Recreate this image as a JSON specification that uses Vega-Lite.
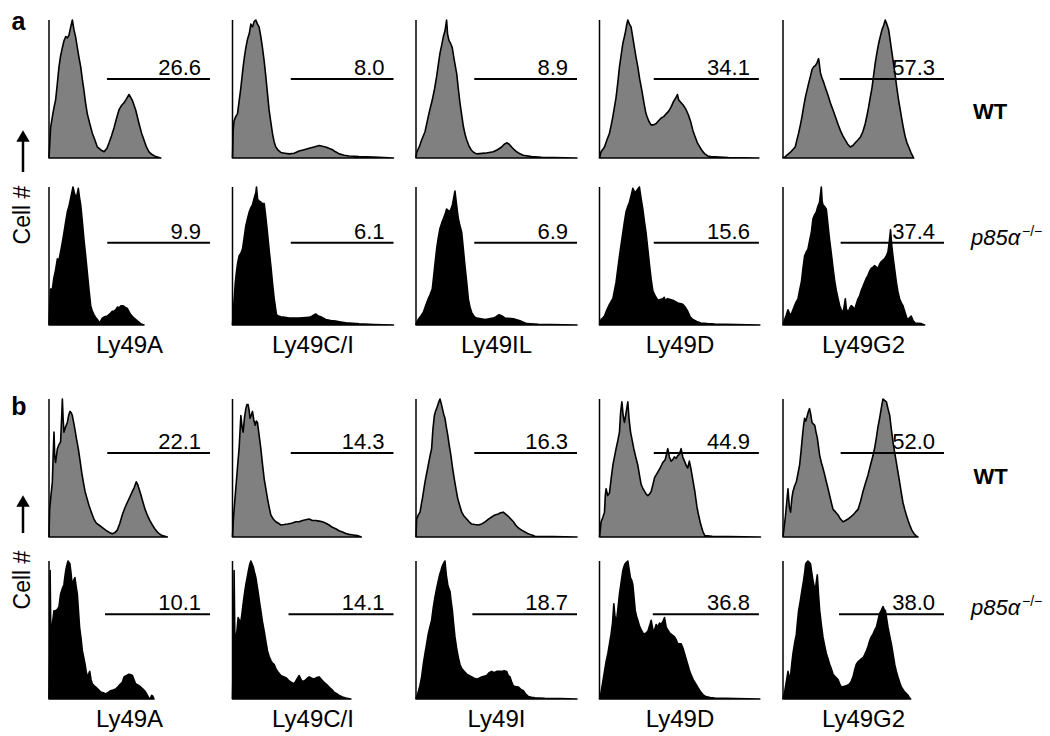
{
"$schema":"https://vega.github.io/schema/vega-lite/v6.json",
"padding":{"left":5,"top":10,"right":0,"bottom":0},
"background":"white",
"config":{"font":"Liberation Sans","view":{"stroke":null}},
"datasets":{
"a":[
{"r":"W","c":1,"x":0,"y":0},{"r":"W","c":1,"x":1,"y":22},{"r":"W","c":1,"x":2.1,"y":30},{"r":"W","c":1,"x":3,"y":36},{"r":"W","c":1,"x":4.1,"y":42},{"r":"W","c":1,"x":5,"y":52},{"r":"W","c":1,"x":6.2,"y":66},{"r":"W","c":1,"x":7.2,"y":74},{"r":"W","c":1,"x":8.3,"y":80},{"r":"W","c":1,"x":9.3,"y":85},{"r":"W","c":1,"x":10.4,"y":88},{"r":"W","c":1,"x":11.4,"y":87},{"r":"W","c":1,"x":12.4,"y":89},{"r":"W","c":1,"x":13.5,"y":95},{"r":"W","c":1,"x":14.5,"y":100},{"r":"W","c":1,"x":15.5,"y":93},{"r":"W","c":1,"x":16.5,"y":88},{"r":"W","c":1,"x":17.6,"y":80},{"r":"W","c":1,"x":18.6,"y":73},{"r":"W","c":1,"x":19.7,"y":66},{"r":"W","c":1,"x":20.7,"y":57},{"r":"W","c":1,"x":21.7,"y":49},{"r":"W","c":1,"x":22.7,"y":40},{"r":"W","c":1,"x":23.8,"y":32},{"r":"W","c":1,"x":25.3,"y":25},{"r":"W","c":1,"x":26.9,"y":18},{"r":"W","c":1,"x":28.5,"y":13},{"r":"W","c":1,"x":30,"y":8},{"r":"W","c":1,"x":32,"y":6},{"r":"W","c":1,"x":34.2,"y":4.5},{"r":"W","c":1,"x":36,"y":7},{"r":"W","c":1,"x":37.3,"y":11},{"r":"W","c":1,"x":38.8,"y":16},{"r":"W","c":1,"x":40.4,"y":22},{"r":"W","c":1,"x":42,"y":29},{"r":"W","c":1,"x":43.5,"y":35},{"r":"W","c":1,"x":45,"y":38},{"r":"W","c":1,"x":46.6,"y":40},{"r":"W","c":1,"x":48.2,"y":43},{"r":"W","c":1,"x":49.7,"y":46},{"r":"W","c":1,"x":51.7,"y":42},{"r":"W","c":1,"x":53.8,"y":35},{"r":"W","c":1,"x":55.9,"y":25},{"r":"W","c":1,"x":57.5,"y":18},{"r":"W","c":1,"x":59,"y":13},{"r":"W","c":1,"x":60.5,"y":8},{"r":"W","c":1,"x":62.1,"y":4.5},{"r":"W","c":1,"x":64,"y":2.5},{"r":"W","c":1,"x":66.3,"y":1},{"r":"W","c":1,"x":69.4,"y":0},
{"r":"W","c":2,"x":0,"y":0},{"r":"W","c":2,"x":0.4,"y":20},{"r":"W","c":2,"x":1,"y":27},{"r":"W","c":2,"x":2,"y":30},{"r":"W","c":2,"x":3.1,"y":32},{"r":"W","c":2,"x":4.2,"y":42},{"r":"W","c":2,"x":5.2,"y":51},{"r":"W","c":2,"x":6.6,"y":66},{"r":"W","c":2,"x":7.5,"y":74},{"r":"W","c":2,"x":8.3,"y":80},{"r":"W","c":2,"x":9.3,"y":86},{"r":"W","c":2,"x":10.4,"y":90},{"r":"W","c":2,"x":11.4,"y":97},{"r":"W","c":2,"x":12.4,"y":95},{"r":"W","c":2,"x":13.5,"y":99},{"r":"W","c":2,"x":14.5,"y":100},{"r":"W","c":2,"x":15.5,"y":97},{"r":"W","c":2,"x":16.5,"y":95},{"r":"W","c":2,"x":17.6,"y":88},{"r":"W","c":2,"x":18.6,"y":80},{"r":"W","c":2,"x":19.7,"y":70},{"r":"W","c":2,"x":20.7,"y":59},{"r":"W","c":2,"x":21.7,"y":47},{"r":"W","c":2,"x":22.7,"y":35},{"r":"W","c":2,"x":23.8,"y":26},{"r":"W","c":2,"x":24.8,"y":18},{"r":"W","c":2,"x":25.8,"y":12},{"r":"W","c":2,"x":26.9,"y":8},{"r":"W","c":2,"x":28.5,"y":5.5},{"r":"W","c":2,"x":30,"y":4},{"r":"W","c":2,"x":32.5,"y":3.5},{"r":"W","c":2,"x":35.2,"y":3},{"r":"W","c":2,"x":38.3,"y":3.5},{"r":"W","c":2,"x":41.4,"y":5},{"r":"W","c":2,"x":44.5,"y":6},{"r":"W","c":2,"x":47.6,"y":7},{"r":"W","c":2,"x":50.7,"y":8},{"r":"W","c":2,"x":53.8,"y":9},{"r":"W","c":2,"x":57.9,"y":8},{"r":"W","c":2,"x":62.1,"y":6},{"r":"W","c":2,"x":64,"y":4.5},{"r":"W","c":2,"x":66.3,"y":3},{"r":"W","c":2,"x":69.4,"y":2},{"r":"W","c":2,"x":72.4,"y":1.5},{"r":"W","c":2,"x":78.6,"y":1},{"r":"W","c":2,"x":88,"y":0.6},{"r":"W","c":2,"x":100,"y":0},
{"r":"W","c":3,"x":0,"y":0},{"r":"W","c":3,"x":0.4,"y":4},{"r":"W","c":3,"x":2,"y":8},{"r":"W","c":3,"x":3.5,"y":13},{"r":"W","c":3,"x":5.6,"y":19},{"r":"W","c":3,"x":7.6,"y":30},{"r":"W","c":3,"x":8.8,"y":36},{"r":"W","c":3,"x":10.1,"y":42},{"r":"W","c":3,"x":11.5,"y":50},{"r":"W","c":3,"x":12.8,"y":59},{"r":"W","c":3,"x":13.9,"y":68},{"r":"W","c":3,"x":14.9,"y":76},{"r":"W","c":3,"x":16,"y":82},{"r":"W","c":3,"x":17,"y":88},{"r":"W","c":3,"x":18,"y":92},{"r":"W","c":3,"x":19,"y":100},{"r":"W","c":3,"x":19.6,"y":90},{"r":"W","c":3,"x":20.5,"y":85},{"r":"W","c":3,"x":21.5,"y":83},{"r":"W","c":3,"x":22.5,"y":80},{"r":"W","c":3,"x":23.9,"y":70},{"r":"W","c":3,"x":25.3,"y":61},{"r":"W","c":3,"x":26.3,"y":50},{"r":"W","c":3,"x":27.3,"y":40},{"r":"W","c":3,"x":28.4,"y":31},{"r":"W","c":3,"x":29.4,"y":23},{"r":"W","c":3,"x":30.5,"y":17},{"r":"W","c":3,"x":31.5,"y":13},{"r":"W","c":3,"x":32.8,"y":9},{"r":"W","c":3,"x":34.2,"y":6},{"r":"W","c":3,"x":35.9,"y":4},{"r":"W","c":3,"x":37.7,"y":3},{"r":"W","c":3,"x":42.9,"y":3.5},{"r":"W","c":3,"x":48,"y":4.5},{"r":"W","c":3,"x":50.6,"y":6},{"r":"W","c":3,"x":53.2,"y":8},{"r":"W","c":3,"x":54.8,"y":10},{"r":"W","c":3,"x":56.3,"y":11},{"r":"W","c":3,"x":57.9,"y":10},{"r":"W","c":3,"x":59.4,"y":8},{"r":"W","c":3,"x":61,"y":6},{"r":"W","c":3,"x":62.5,"y":4.5},{"r":"W","c":3,"x":64.6,"y":3},{"r":"W","c":3,"x":66.6,"y":2},{"r":"W","c":3,"x":71.8,"y":1},{"r":"W","c":3,"x":78,"y":0.5},{"r":"W","c":3,"x":100,"y":0},
{"r":"W","c":4,"x":0,"y":0},{"r":"W","c":4,"x":1,"y":4.5},{"r":"W","c":4,"x":3.1,"y":8},{"r":"W","c":4,"x":4.6,"y":13},{"r":"W","c":4,"x":6.2,"y":18},{"r":"W","c":4,"x":7.3,"y":24},{"r":"W","c":4,"x":8.3,"y":30},{"r":"W","c":4,"x":9.3,"y":37},{"r":"W","c":4,"x":10.3,"y":44},{"r":"W","c":4,"x":11.4,"y":55},{"r":"W","c":4,"x":12.4,"y":66},{"r":"W","c":4,"x":13.5,"y":75},{"r":"W","c":4,"x":14.5,"y":83},{"r":"W","c":4,"x":15.9,"y":90},{"r":"W","c":4,"x":16.8,"y":96},{"r":"W","c":4,"x":17.6,"y":100},{"r":"W","c":4,"x":18.6,"y":97},{"r":"W","c":4,"x":19.6,"y":95},{"r":"W","c":4,"x":20.6,"y":88},{"r":"W","c":4,"x":21.7,"y":80},{"r":"W","c":4,"x":22.7,"y":73},{"r":"W","c":4,"x":23.8,"y":66},{"r":"W","c":4,"x":25,"y":57},{"r":"W","c":4,"x":26.3,"y":49},{"r":"W","c":4,"x":27.6,"y":40},{"r":"W","c":4,"x":28.9,"y":32},{"r":"W","c":4,"x":30.5,"y":27},{"r":"W","c":4,"x":32,"y":24},{"r":"W","c":4,"x":33.6,"y":24},{"r":"W","c":4,"x":35.2,"y":25},{"r":"W","c":4,"x":36.7,"y":27},{"r":"W","c":4,"x":38.3,"y":29},{"r":"W","c":4,"x":39.9,"y":30},{"r":"W","c":4,"x":41.4,"y":32},{"r":"W","c":4,"x":43,"y":34},{"r":"W","c":4,"x":44.5,"y":37},{"r":"W","c":4,"x":46,"y":41},{"r":"W","c":4,"x":47.6,"y":44},{"r":"W","c":4,"x":48.4,"y":46},{"r":"W","c":4,"x":49.2,"y":42},{"r":"W","c":4,"x":50.7,"y":40},{"r":"W","c":4,"x":52.2,"y":38},{"r":"W","c":4,"x":53.8,"y":35},{"r":"W","c":4,"x":55.3,"y":31},{"r":"W","c":4,"x":56.7,"y":26},{"r":"W","c":4,"x":58,"y":20},{"r":"W","c":4,"x":59.2,"y":16},{"r":"W","c":4,"x":60.8,"y":11},{"r":"W","c":4,"x":62.3,"y":8},{"r":"W","c":4,"x":63.9,"y":5},{"r":"W","c":4,"x":65.4,"y":3},{"r":"W","c":4,"x":67.2,"y":1.5},{"r":"W","c":4,"x":69.1,"y":1},{"r":"W","c":4,"x":80,"y":0.4},{"r":"W","c":4,"x":99,"y":0},
{"r":"W","c":5,"x":0,"y":0},{"r":"W","c":5,"x":1.4,"y":1},{"r":"W","c":5,"x":4.5,"y":4},{"r":"W","c":5,"x":7.6,"y":8},{"r":"W","c":5,"x":8.6,"y":13},{"r":"W","c":5,"x":9.7,"y":18},{"r":"W","c":5,"x":10.8,"y":24},{"r":"W","c":5,"x":11.8,"y":30},{"r":"W","c":5,"x":12.8,"y":37},{"r":"W","c":5,"x":13.9,"y":44},{"r":"W","c":5,"x":14.9,"y":49},{"r":"W","c":5,"x":15.9,"y":54},{"r":"W","c":5,"x":17,"y":59},{"r":"W","c":5,"x":18,"y":64},{"r":"W","c":5,"x":19,"y":66},{"r":"W","c":5,"x":20.1,"y":67},{"r":"W","c":5,"x":21.1,"y":69},{"r":"W","c":5,"x":22.1,"y":72},{"r":"W","c":5,"x":22.6,"y":68},{"r":"W","c":5,"x":23.2,"y":62},{"r":"W","c":5,"x":24.2,"y":58},{"r":"W","c":5,"x":25.2,"y":55},{"r":"W","c":5,"x":26.3,"y":51},{"r":"W","c":5,"x":27.8,"y":46},{"r":"W","c":5,"x":29.4,"y":40},{"r":"W","c":5,"x":31,"y":35},{"r":"W","c":5,"x":32.5,"y":30},{"r":"W","c":5,"x":34,"y":25},{"r":"W","c":5,"x":35.6,"y":20},{"r":"W","c":5,"x":37.2,"y":16},{"r":"W","c":5,"x":38.7,"y":13},{"r":"W","c":5,"x":40.2,"y":10},{"r":"W","c":5,"x":41.8,"y":8},{"r":"W","c":5,"x":43.4,"y":9},{"r":"W","c":5,"x":44.9,"y":11},{"r":"W","c":5,"x":46.5,"y":13},{"r":"W","c":5,"x":48,"y":15},{"r":"W","c":5,"x":49.6,"y":19},{"r":"W","c":5,"x":51.1,"y":25},{"r":"W","c":5,"x":52.2,"y":31},{"r":"W","c":5,"x":53.2,"y":37},{"r":"W","c":5,"x":54.2,"y":44},{"r":"W","c":5,"x":55.3,"y":51},{"r":"W","c":5,"x":56.3,"y":60},{"r":"W","c":5,"x":57.3,"y":69},{"r":"W","c":5,"x":58.3,"y":76},{"r":"W","c":5,"x":59.4,"y":83},{"r":"W","c":5,"x":60.4,"y":88},{"r":"W","c":5,"x":61.5,"y":93},{"r":"W","c":5,"x":62.5,"y":96},{"r":"W","c":5,"x":63.5,"y":100},{"r":"W","c":5,"x":64.5,"y":97},{"r":"W","c":5,"x":65.6,"y":93},{"r":"W","c":5,"x":66.6,"y":85},{"r":"W","c":5,"x":67.7,"y":76},{"r":"W","c":5,"x":68.7,"y":68},{"r":"W","c":5,"x":69.8,"y":59},{"r":"W","c":5,"x":70.8,"y":50},{"r":"W","c":5,"x":71.8,"y":42},{"r":"W","c":5,"x":72.8,"y":35},{"r":"W","c":5,"x":73.9,"y":27.5},{"r":"W","c":5,"x":74.9,"y":21},{"r":"W","c":5,"x":76,"y":15},{"r":"W","c":5,"x":77,"y":11},{"r":"W","c":5,"x":78.1,"y":8},{"r":"W","c":5,"x":79.6,"y":3.6},{"r":"W","c":5,"x":81.2,"y":0},
{"r":"K","c":1,"x":0,"y":0},{"r":"K","c":1,"x":0.5,"y":15},{"r":"K","c":1,"x":1,"y":26},{"r":"K","c":1,"x":2.1,"y":26},{"r":"K","c":1,"x":3,"y":34},{"r":"K","c":1,"x":4.1,"y":40},{"r":"K","c":1,"x":5.2,"y":48},{"r":"K","c":1,"x":6.2,"y":47},{"r":"K","c":1,"x":7.2,"y":53},{"r":"K","c":1,"x":8.3,"y":60},{"r":"K","c":1,"x":9.3,"y":67},{"r":"K","c":1,"x":10.4,"y":75},{"r":"K","c":1,"x":11.4,"y":82},{"r":"K","c":1,"x":12.4,"y":86},{"r":"K","c":1,"x":13.5,"y":92},{"r":"K","c":1,"x":14.9,"y":100},{"r":"K","c":1,"x":15.9,"y":95},{"r":"K","c":1,"x":17,"y":92},{"r":"K","c":1,"x":18.2,"y":99},{"r":"K","c":1,"x":19,"y":92},{"r":"K","c":1,"x":19.7,"y":87},{"r":"K","c":1,"x":20.7,"y":75},{"r":"K","c":1,"x":21.7,"y":62},{"r":"K","c":1,"x":22.8,"y":50},{"r":"K","c":1,"x":23.8,"y":38},{"r":"K","c":1,"x":24.8,"y":26},{"r":"K","c":1,"x":25.9,"y":14},{"r":"K","c":1,"x":26.9,"y":10},{"r":"K","c":1,"x":27.9,"y":7.5},{"r":"K","c":1,"x":29,"y":5.5},{"r":"K","c":1,"x":30,"y":4},{"r":"K","c":1,"x":31.5,"y":1.5},{"r":"K","c":1,"x":33.1,"y":5},{"r":"K","c":1,"x":34.6,"y":6},{"r":"K","c":1,"x":36.2,"y":6.5},{"r":"K","c":1,"x":37.8,"y":8},{"r":"K","c":1,"x":39.3,"y":10},{"r":"K","c":1,"x":40.4,"y":10},{"r":"K","c":1,"x":41.4,"y":11},{"r":"K","c":1,"x":42.5,"y":13},{"r":"K","c":1,"x":43.5,"y":12.4},{"r":"K","c":1,"x":44.7,"y":14},{"r":"K","c":1,"x":45.9,"y":14},{"r":"K","c":1,"x":47.2,"y":13},{"r":"K","c":1,"x":48.6,"y":12},{"r":"K","c":1,"x":50.7,"y":7.5},{"r":"K","c":1,"x":52.3,"y":5.5},{"r":"K","c":1,"x":53.8,"y":4},{"r":"K","c":1,"x":55.4,"y":2.5},{"r":"K","c":1,"x":56.9,"y":1},{"r":"K","c":1,"x":59,"y":0},
{"r":"K","c":2,"x":0,"y":0},{"r":"K","c":2,"x":0.5,"y":10},{"r":"K","c":2,"x":1,"y":18},{"r":"K","c":2,"x":1.7,"y":30},{"r":"K","c":2,"x":2.4,"y":38},{"r":"K","c":2,"x":3.2,"y":45},{"r":"K","c":2,"x":4.1,"y":50},{"r":"K","c":2,"x":5.2,"y":52},{"r":"K","c":2,"x":6.2,"y":55},{"r":"K","c":2,"x":7.2,"y":63},{"r":"K","c":2,"x":8.3,"y":72},{"r":"K","c":2,"x":9.3,"y":77},{"r":"K","c":2,"x":10.4,"y":82},{"r":"K","c":2,"x":11.4,"y":85},{"r":"K","c":2,"x":12.4,"y":87},{"r":"K","c":2,"x":13.5,"y":92},{"r":"K","c":2,"x":14.5,"y":96},{"r":"K","c":2,"x":14.9,"y":100},{"r":"K","c":2,"x":15.6,"y":91},{"r":"K","c":2,"x":16.5,"y":90},{"r":"K","c":2,"x":17.6,"y":89},{"r":"K","c":2,"x":18.6,"y":88},{"r":"K","c":2,"x":19.7,"y":88},{"r":"K","c":2,"x":20.7,"y":78},{"r":"K","c":2,"x":21.7,"y":67},{"r":"K","c":2,"x":22.7,"y":55},{"r":"K","c":2,"x":23.8,"y":43},{"r":"K","c":2,"x":24.8,"y":31},{"r":"K","c":2,"x":25.9,"y":19},{"r":"K","c":2,"x":27.3,"y":7.5},{"r":"K","c":2,"x":28.5,"y":6.5},{"r":"K","c":2,"x":30,"y":6},{"r":"K","c":2,"x":32.5,"y":5.5},{"r":"K","c":2,"x":35.2,"y":5},{"r":"K","c":2,"x":41.4,"y":5},{"r":"K","c":2,"x":47.6,"y":5.5},{"r":"K","c":2,"x":49.6,"y":6.5},{"r":"K","c":2,"x":51.7,"y":8},{"r":"K","c":2,"x":53.3,"y":6.5},{"r":"K","c":2,"x":54.8,"y":6},{"r":"K","c":2,"x":56.4,"y":5},{"r":"K","c":2,"x":57.9,"y":4},{"r":"K","c":2,"x":61,"y":3.2},{"r":"K","c":2,"x":64.1,"y":2.8},{"r":"K","c":2,"x":67.2,"y":2.2},{"r":"K","c":2,"x":70.4,"y":1.6},{"r":"K","c":2,"x":74.5,"y":1.2},{"r":"K","c":2,"x":78.6,"y":0.8},{"r":"K","c":2,"x":88,"y":0.4},{"r":"K","c":2,"x":100,"y":0},
{"r":"K","c":3,"x":0,"y":0},{"r":"K","c":3,"x":0.5,"y":2},{"r":"K","c":3,"x":1.4,"y":4},{"r":"K","c":3,"x":3,"y":6.5},{"r":"K","c":3,"x":4.5,"y":9},{"r":"K","c":3,"x":6,"y":14},{"r":"K","c":3,"x":7.6,"y":19},{"r":"K","c":3,"x":8.8,"y":22},{"r":"K","c":3,"x":10.1,"y":26},{"r":"K","c":3,"x":11.4,"y":40},{"r":"K","c":3,"x":12.8,"y":55},{"r":"K","c":3,"x":13.8,"y":63},{"r":"K","c":3,"x":14.9,"y":70},{"r":"K","c":3,"x":16,"y":74},{"r":"K","c":3,"x":17,"y":77},{"r":"K","c":3,"x":18,"y":80},{"r":"K","c":3,"x":19,"y":84},{"r":"K","c":3,"x":20,"y":83},{"r":"K","c":3,"x":21.1,"y":82},{"r":"K","c":3,"x":22.6,"y":87},{"r":"K","c":3,"x":23.4,"y":92},{"r":"K","c":3,"x":24.2,"y":97},{"r":"K","c":3,"x":25.2,"y":87},{"r":"K","c":3,"x":26.3,"y":77},{"r":"K","c":3,"x":27.3,"y":72},{"r":"K","c":3,"x":28.4,"y":67},{"r":"K","c":3,"x":29.4,"y":55},{"r":"K","c":3,"x":30.4,"y":43},{"r":"K","c":3,"x":31.5,"y":31},{"r":"K","c":3,"x":32.5,"y":19},{"r":"K","c":3,"x":33.5,"y":13},{"r":"K","c":3,"x":34.6,"y":9},{"r":"K","c":3,"x":36.2,"y":6},{"r":"K","c":3,"x":37.7,"y":5},{"r":"K","c":3,"x":42.9,"y":4},{"r":"K","c":3,"x":48,"y":5},{"r":"K","c":3,"x":49.8,"y":6},{"r":"K","c":3,"x":51.6,"y":7.5},{"r":"K","c":3,"x":53.4,"y":6.5},{"r":"K","c":3,"x":55.3,"y":5},{"r":"K","c":3,"x":60.5,"y":4.5},{"r":"K","c":3,"x":62.5,"y":3.8},{"r":"K","c":3,"x":64.6,"y":3},{"r":"K","c":3,"x":66.7,"y":2},{"r":"K","c":3,"x":68.8,"y":1},{"r":"K","c":3,"x":76,"y":0.5},{"r":"K","c":3,"x":100,"y":0},
{"r":"K","c":4,"x":0,"y":0},{"r":"K","c":4,"x":1,"y":4},{"r":"K","c":4,"x":2,"y":5},{"r":"K","c":4,"x":3.1,"y":6.5},{"r":"K","c":4,"x":4.6,"y":11},{"r":"K","c":4,"x":6.2,"y":15},{"r":"K","c":4,"x":7.2,"y":17},{"r":"K","c":4,"x":8.3,"y":19},{"r":"K","c":4,"x":9.3,"y":25},{"r":"K","c":4,"x":10.3,"y":31},{"r":"K","c":4,"x":11.4,"y":41},{"r":"K","c":4,"x":12.4,"y":50},{"r":"K","c":4,"x":13.5,"y":59},{"r":"K","c":4,"x":14.5,"y":67},{"r":"K","c":4,"x":15.5,"y":75},{"r":"K","c":4,"x":16.5,"y":82},{"r":"K","c":4,"x":17.6,"y":86},{"r":"K","c":4,"x":18.6,"y":89},{"r":"K","c":4,"x":19.7,"y":94},{"r":"K","c":4,"x":20.7,"y":99},{"r":"K","c":4,"x":21.5,"y":97},{"r":"K","c":4,"x":22.3,"y":96},{"r":"K","c":4,"x":23.5,"y":98},{"r":"K","c":4,"x":24.8,"y":100},{"r":"K","c":4,"x":25.8,"y":92},{"r":"K","c":4,"x":26.9,"y":84},{"r":"K","c":4,"x":27.9,"y":75},{"r":"K","c":4,"x":28.9,"y":67},{"r":"K","c":4,"x":30,"y":55},{"r":"K","c":4,"x":31.1,"y":43},{"r":"K","c":4,"x":32.1,"y":33},{"r":"K","c":4,"x":33.1,"y":25},{"r":"K","c":4,"x":34.6,"y":21},{"r":"K","c":4,"x":36.2,"y":18},{"r":"K","c":4,"x":37.7,"y":18.5},{"r":"K","c":4,"x":39.3,"y":19},{"r":"K","c":4,"x":40.2,"y":20},{"r":"K","c":4,"x":40.8,"y":18},{"r":"K","c":4,"x":42.4,"y":19},{"r":"K","c":4,"x":44,"y":18.5},{"r":"K","c":4,"x":45.5,"y":18},{"r":"K","c":4,"x":47,"y":17},{"r":"K","c":4,"x":48.6,"y":16},{"r":"K","c":4,"x":50.1,"y":15.5},{"r":"K","c":4,"x":51.7,"y":15},{"r":"K","c":4,"x":53.2,"y":13},{"r":"K","c":4,"x":54.8,"y":10},{"r":"K","c":4,"x":56.3,"y":6},{"r":"K","c":4,"x":57.9,"y":4},{"r":"K","c":4,"x":60.4,"y":2.5},{"r":"K","c":4,"x":62.9,"y":1.5},{"r":"K","c":4,"x":67,"y":1},{"r":"K","c":4,"x":71.6,"y":0.7},{"r":"K","c":4,"x":85,"y":0.3},{"r":"K","c":4,"x":99.6,"y":0},
{"r":"K","c":5,"x":0,"y":0},{"r":"K","c":5,"x":1,"y":4},{"r":"K","c":5,"x":2,"y":7},{"r":"K","c":5,"x":3.1,"y":11},{"r":"K","c":5,"x":4.2,"y":8},{"r":"K","c":5,"x":5.2,"y":8},{"r":"K","c":5,"x":6.2,"y":11},{"r":"K","c":5,"x":7.2,"y":14},{"r":"K","c":5,"x":8.3,"y":17},{"r":"K","c":5,"x":9.3,"y":19},{"r":"K","c":5,"x":10.3,"y":25},{"r":"K","c":5,"x":11.4,"y":31},{"r":"K","c":5,"x":12.4,"y":41},{"r":"K","c":5,"x":13.4,"y":50},{"r":"K","c":5,"x":14.5,"y":53},{"r":"K","c":5,"x":15.5,"y":55},{"r":"K","c":5,"x":16.5,"y":61},{"r":"K","c":5,"x":17.6,"y":67},{"r":"K","c":5,"x":18.6,"y":77},{"r":"K","c":5,"x":19.7,"y":80},{"r":"K","c":5,"x":20.7,"y":82},{"r":"K","c":5,"x":21.7,"y":86},{"r":"K","c":5,"x":22.7,"y":89},{"r":"K","c":5,"x":23.8,"y":100},{"r":"K","c":5,"x":24.3,"y":90},{"r":"K","c":5,"x":24.8,"y":87},{"r":"K","c":5,"x":25.8,"y":86},{"r":"K","c":5,"x":26.9,"y":84},{"r":"K","c":5,"x":27.9,"y":73},{"r":"K","c":5,"x":28.9,"y":62},{"r":"K","c":5,"x":30,"y":52},{"r":"K","c":5,"x":31.1,"y":41},{"r":"K","c":5,"x":32.1,"y":32},{"r":"K","c":5,"x":33.1,"y":25},{"r":"K","c":5,"x":34.2,"y":19},{"r":"K","c":5,"x":35.2,"y":14},{"r":"K","c":5,"x":36.2,"y":11},{"r":"K","c":5,"x":37.3,"y":9},{"r":"K","c":5,"x":38.2,"y":15},{"r":"K","c":5,"x":38.7,"y":19},{"r":"K","c":5,"x":39.3,"y":12},{"r":"K","c":5,"x":40.4,"y":9},{"r":"K","c":5,"x":41.4,"y":12},{"r":"K","c":5,"x":42.4,"y":14},{"r":"K","c":5,"x":43.5,"y":13},{"r":"K","c":5,"x":44.5,"y":11},{"r":"K","c":5,"x":45.5,"y":15},{"r":"K","c":5,"x":46.6,"y":19},{"r":"K","c":5,"x":47.6,"y":21},{"r":"K","c":5,"x":48.6,"y":25},{"r":"K","c":5,"x":49.7,"y":28},{"r":"K","c":5,"x":50.7,"y":31},{"r":"K","c":5,"x":51.8,"y":34},{"r":"K","c":5,"x":52.8,"y":36},{"r":"K","c":5,"x":53.8,"y":39},{"r":"K","c":5,"x":54.8,"y":41},{"r":"K","c":5,"x":55.9,"y":42},{"r":"K","c":5,"x":56.9,"y":43},{"r":"K","c":5,"x":58,"y":42},{"r":"K","c":5,"x":59,"y":41},{"r":"K","c":5,"x":60,"y":44},{"r":"K","c":5,"x":61.1,"y":46},{"r":"K","c":5,"x":62.1,"y":47},{"r":"K","c":5,"x":63.1,"y":48},{"r":"K","c":5,"x":64.2,"y":50},{"r":"K","c":5,"x":65.2,"y":53},{"r":"K","c":5,"x":66,"y":60},{"r":"K","c":5,"x":66.8,"y":69},{"r":"K","c":5,"x":67.5,"y":58},{"r":"K","c":5,"x":68.3,"y":50},{"r":"K","c":5,"x":69.4,"y":40},{"r":"K","c":5,"x":70.4,"y":31},{"r":"K","c":5,"x":71.4,"y":24},{"r":"K","c":5,"x":72.4,"y":19},{"r":"K","c":5,"x":73.5,"y":16},{"r":"K","c":5,"x":74.5,"y":14},{"r":"K","c":5,"x":75.8,"y":9},{"r":"K","c":5,"x":77.2,"y":4},{"r":"K","c":5,"x":78.4,"y":5},{"r":"K","c":5,"x":79.6,"y":6.5},{"r":"K","c":5,"x":80.8,"y":3},{"r":"K","c":5,"x":82.1,"y":1.5},{"r":"K","c":5,"x":85.9,"y":1},{"r":"K","c":5,"x":88,"y":0},
{"r":"W","c":1,"k":"g","x0":36,"x1":100,"gy":57.2,"t":"26.6"},{"r":"W","c":2,"k":"g","x0":36.2,"x1":100,"gy":57.2,"t":"8.0"},{"r":"W","c":3,"k":"g","x0":36.2,"x1":100,"gy":57.2,"t":"8.9"},{"r":"W","c":4,"k":"g","x0":33.7,"x1":99,"gy":57.2,"t":"34.1"},{"r":"W","c":5,"k":"g","x0":35.2,"x1":100,"gy":57.2,"t":"57.3"},
{"r":"K","c":1,"k":"g","x0":36.2,"x1":100,"gy":59.6,"t":"9.9"},{"r":"K","c":2,"k":"g","x0":36.2,"x1":100,"gy":59.6,"t":"6.1"},{"r":"K","c":3,"k":"g","x0":36.2,"x1":100,"gy":59.6,"t":"6.9"},{"r":"K","c":4,"k":"g","x0":33.7,"x1":99,"gy":59.6,"t":"15.6"},{"r":"K","c":5,"k":"g","x0":35.8,"x1":100,"gy":59.6,"t":"37.4"}
],
"b":[
{"r":"W","c":1,"x":0,"y":0},{"r":"W","c":1,"x":0.4,"y":20},{"r":"W","c":1,"x":1.2,"y":30},{"r":"W","c":1,"x":2.1,"y":40},{"r":"W","c":1,"x":2.6,"y":60},{"r":"W","c":1,"x":3.1,"y":76},{"r":"W","c":1,"x":3.6,"y":58},{"r":"W","c":1,"x":4.1,"y":54},{"r":"W","c":1,"x":5.2,"y":64},{"r":"W","c":1,"x":6.2,"y":67},{"r":"W","c":1,"x":7.2,"y":69},{"r":"W","c":1,"x":7.8,"y":85},{"r":"W","c":1,"x":8.3,"y":100},{"r":"W","c":1,"x":8.8,"y":85},{"r":"W","c":1,"x":9.3,"y":76},{"r":"W","c":1,"x":10.4,"y":80},{"r":"W","c":1,"x":11.4,"y":83},{"r":"W","c":1,"x":12.2,"y":88},{"r":"W","c":1,"x":13,"y":91},{"r":"W","c":1,"x":13.8,"y":90},{"r":"W","c":1,"x":14.5,"y":88},{"r":"W","c":1,"x":15.3,"y":83},{"r":"W","c":1,"x":16.1,"y":78},{"r":"W","c":1,"x":17.1,"y":71},{"r":"W","c":1,"x":18.2,"y":64},{"r":"W","c":1,"x":19.2,"y":56},{"r":"W","c":1,"x":20.3,"y":47},{"r":"W","c":1,"x":21.3,"y":40},{"r":"W","c":1,"x":22.4,"y":33},{"r":"W","c":1,"x":23.6,"y":28},{"r":"W","c":1,"x":24.8,"y":23},{"r":"W","c":1,"x":26.3,"y":18},{"r":"W","c":1,"x":27.9,"y":13},{"r":"W","c":1,"x":29.4,"y":10},{"r":"W","c":1,"x":31,"y":8.7},{"r":"W","c":1,"x":33,"y":7},{"r":"W","c":1,"x":35.2,"y":5},{"r":"W","c":1,"x":37.2,"y":3.5},{"r":"W","c":1,"x":39.3,"y":2.4},{"r":"W","c":1,"x":40.8,"y":3},{"r":"W","c":1,"x":42.4,"y":5},{"r":"W","c":1,"x":44,"y":10},{"r":"W","c":1,"x":45.5,"y":16},{"r":"W","c":1,"x":47.1,"y":21},{"r":"W","c":1,"x":48.6,"y":25},{"r":"W","c":1,"x":50.2,"y":29},{"r":"W","c":1,"x":51.8,"y":33},{"r":"W","c":1,"x":53,"y":36},{"r":"W","c":1,"x":54.2,"y":40},{"r":"W","c":1,"x":55.1,"y":38},{"r":"W","c":1,"x":55.9,"y":35},{"r":"W","c":1,"x":57.2,"y":30},{"r":"W","c":1,"x":58.4,"y":25},{"r":"W","c":1,"x":59.7,"y":20},{"r":"W","c":1,"x":61,"y":16},{"r":"W","c":1,"x":62.6,"y":12},{"r":"W","c":1,"x":64.2,"y":8.7},{"r":"W","c":1,"x":65.7,"y":6},{"r":"W","c":1,"x":67.3,"y":3.6},{"r":"W","c":1,"x":68.9,"y":2},{"r":"W","c":1,"x":70.4,"y":1},{"r":"W","c":1,"x":73.5,"y":0},
{"r":"W","c":2,"x":0,"y":0},{"r":"W","c":2,"x":0.5,"y":12},{"r":"W","c":2,"x":1,"y":20},{"r":"W","c":2,"x":1.7,"y":30},{"r":"W","c":2,"x":2.4,"y":40},{"r":"W","c":2,"x":3.2,"y":52},{"r":"W","c":2,"x":4.1,"y":64},{"r":"W","c":2,"x":4.6,"y":75},{"r":"W","c":2,"x":5.2,"y":88},{"r":"W","c":2,"x":5.9,"y":80},{"r":"W","c":2,"x":6.6,"y":76},{"r":"W","c":2,"x":7.4,"y":86},{"r":"W","c":2,"x":8.3,"y":93},{"r":"W","c":2,"x":9,"y":96},{"r":"W","c":2,"x":9.7,"y":96},{"r":"W","c":2,"x":10.3,"y":92},{"r":"W","c":2,"x":10.9,"y":86},{"r":"W","c":2,"x":11.6,"y":88},{"r":"W","c":2,"x":12.4,"y":91},{"r":"W","c":2,"x":13.2,"y":85},{"r":"W","c":2,"x":14.1,"y":81},{"r":"W","c":2,"x":14.8,"y":84},{"r":"W","c":2,"x":15.5,"y":83},{"r":"W","c":2,"x":16.5,"y":74},{"r":"W","c":2,"x":17.6,"y":64},{"r":"W","c":2,"x":18.6,"y":53},{"r":"W","c":2,"x":19.7,"y":42},{"r":"W","c":2,"x":20.7,"y":35},{"r":"W","c":2,"x":21.7,"y":28},{"r":"W","c":2,"x":22.7,"y":22},{"r":"W","c":2,"x":23.8,"y":16},{"r":"W","c":2,"x":25.3,"y":13},{"r":"W","c":2,"x":26.9,"y":11},{"r":"W","c":2,"x":28.5,"y":10},{"r":"W","c":2,"x":30,"y":8.7},{"r":"W","c":2,"x":32,"y":9},{"r":"W","c":2,"x":34.2,"y":9.4},{"r":"W","c":2,"x":36.7,"y":10},{"r":"W","c":2,"x":39.3,"y":11},{"r":"W","c":2,"x":41.4,"y":11},{"r":"W","c":2,"x":43.5,"y":12},{"r":"W","c":2,"x":45.5,"y":12.5},{"r":"W","c":2,"x":47.6,"y":13},{"r":"W","c":2,"x":49.6,"y":12},{"r":"W","c":2,"x":51.7,"y":12},{"r":"W","c":2,"x":53.8,"y":11.5},{"r":"W","c":2,"x":55.9,"y":11},{"r":"W","c":2,"x":58,"y":10},{"r":"W","c":2,"x":60,"y":8.7},{"r":"W","c":2,"x":62,"y":7},{"r":"W","c":2,"x":64.1,"y":6},{"r":"W","c":2,"x":66.2,"y":4.5},{"r":"W","c":2,"x":68.3,"y":3.6},{"r":"W","c":2,"x":70.4,"y":2.5},{"r":"W","c":2,"x":72.4,"y":1.9},{"r":"W","c":2,"x":75,"y":1.5},{"r":"W","c":2,"x":77.6,"y":1},{"r":"W","c":2,"x":80,"y":0},
{"r":"W","c":3,"x":0,"y":0},{"r":"W","c":3,"x":0.4,"y":13},{"r":"W","c":3,"x":1.4,"y":16},{"r":"W","c":3,"x":2.5,"y":18},{"r":"W","c":3,"x":3.2,"y":23},{"r":"W","c":3,"x":4,"y":28},{"r":"W","c":3,"x":4.8,"y":34},{"r":"W","c":3,"x":5.6,"y":40},{"r":"W","c":3,"x":6.6,"y":46},{"r":"W","c":3,"x":7.6,"y":52},{"r":"W","c":3,"x":8.6,"y":58},{"r":"W","c":3,"x":9.7,"y":64},{"r":"W","c":3,"x":10.5,"y":78},{"r":"W","c":3,"x":11.4,"y":88},{"r":"W","c":3,"x":12.1,"y":91},{"r":"W","c":3,"x":12.8,"y":93},{"r":"W","c":3,"x":13.9,"y":97},{"r":"W","c":3,"x":14.9,"y":100},{"r":"W","c":3,"x":15.6,"y":97},{"r":"W","c":3,"x":16.4,"y":93},{"r":"W","c":3,"x":17.2,"y":89},{"r":"W","c":3,"x":18,"y":86},{"r":"W","c":3,"x":18.8,"y":80},{"r":"W","c":3,"x":19.7,"y":74},{"r":"W","c":3,"x":20.7,"y":66},{"r":"W","c":3,"x":21.7,"y":59},{"r":"W","c":3,"x":22.7,"y":50},{"r":"W","c":3,"x":23.8,"y":42},{"r":"W","c":3,"x":24.8,"y":35},{"r":"W","c":3,"x":25.9,"y":28},{"r":"W","c":3,"x":27.1,"y":23},{"r":"W","c":3,"x":28.4,"y":18},{"r":"W","c":3,"x":29.9,"y":15},{"r":"W","c":3,"x":31.5,"y":13},{"r":"W","c":3,"x":33,"y":11},{"r":"W","c":3,"x":34.6,"y":9.4},{"r":"W","c":3,"x":36.6,"y":9},{"r":"W","c":3,"x":38.7,"y":8.7},{"r":"W","c":3,"x":40.8,"y":9.5},{"r":"W","c":3,"x":42.9,"y":11},{"r":"W","c":3,"x":45,"y":13},{"r":"W","c":3,"x":47,"y":14.5},{"r":"W","c":3,"x":49,"y":16},{"r":"W","c":3,"x":51.1,"y":16.7},{"r":"W","c":3,"x":52.6,"y":17.5},{"r":"W","c":3,"x":54.2,"y":18},{"r":"W","c":3,"x":55.7,"y":16.5},{"r":"W","c":3,"x":57.3,"y":15},{"r":"W","c":3,"x":58.9,"y":13},{"r":"W","c":3,"x":60.5,"y":11},{"r":"W","c":3,"x":62,"y":8.5},{"r":"W","c":3,"x":63.6,"y":6.5},{"r":"W","c":3,"x":65.6,"y":5},{"r":"W","c":3,"x":67.7,"y":3.6},{"r":"W","c":3,"x":69.3,"y":2.6},{"r":"W","c":3,"x":70.8,"y":1.9},{"r":"W","c":3,"x":72.4,"y":1.2},{"r":"W","c":3,"x":73.9,"y":0.5},{"r":"W","c":3,"x":85,"y":0.3},{"r":"W","c":3,"x":100,"y":0},
{"r":"W","c":4,"x":0,"y":0},{"r":"W","c":4,"x":1,"y":11},{"r":"W","c":4,"x":2,"y":14},{"r":"W","c":4,"x":3.1,"y":18},{"r":"W","c":4,"x":3.6,"y":30},{"r":"W","c":4,"x":4.1,"y":35},{"r":"W","c":4,"x":5.1,"y":30},{"r":"W","c":4,"x":6.2,"y":32},{"r":"W","c":4,"x":7.2,"y":42},{"r":"W","c":4,"x":8.3,"y":52},{"r":"W","c":4,"x":9.3,"y":58},{"r":"W","c":4,"x":10.3,"y":64},{"r":"W","c":4,"x":11.4,"y":70},{"r":"W","c":4,"x":12.4,"y":76},{"r":"W","c":4,"x":13.1,"y":90},{"r":"W","c":4,"x":13.9,"y":98},{"r":"W","c":4,"x":14.7,"y":88},{"r":"W","c":4,"x":15.5,"y":83},{"r":"W","c":4,"x":16.5,"y":90},{"r":"W","c":4,"x":17.6,"y":98},{"r":"W","c":4,"x":18.4,"y":85},{"r":"W","c":4,"x":19.3,"y":76},{"r":"W","c":4,"x":20.3,"y":70},{"r":"W","c":4,"x":21.3,"y":64},{"r":"W","c":4,"x":22.5,"y":58},{"r":"W","c":4,"x":23.8,"y":52},{"r":"W","c":4,"x":24.8,"y":45},{"r":"W","c":4,"x":25.9,"y":38},{"r":"W","c":4,"x":27,"y":35},{"r":"W","c":4,"x":28,"y":33},{"r":"W","c":4,"x":29,"y":31},{"r":"W","c":4,"x":30,"y":30},{"r":"W","c":4,"x":31,"y":31},{"r":"W","c":4,"x":32.1,"y":33},{"r":"W","c":4,"x":33.2,"y":38},{"r":"W","c":4,"x":34.2,"y":43},{"r":"W","c":4,"x":35.2,"y":45},{"r":"W","c":4,"x":36.2,"y":47},{"r":"W","c":4,"x":37.7,"y":50},{"r":"W","c":4,"x":39.3,"y":54},{"r":"W","c":4,"x":40.8,"y":56},{"r":"W","c":4,"x":41.6,"y":60},{"r":"W","c":4,"x":42.4,"y":64},{"r":"W","c":4,"x":43.4,"y":58},{"r":"W","c":4,"x":44.5,"y":55},{"r":"W","c":4,"x":45.5,"y":56},{"r":"W","c":4,"x":46.5,"y":58},{"r":"W","c":4,"x":47.6,"y":57},{"r":"W","c":4,"x":48.6,"y":59},{"r":"W","c":4,"x":49.6,"y":60},{"r":"W","c":4,"x":50.7,"y":64},{"r":"W","c":4,"x":51.7,"y":58},{"r":"W","c":4,"x":52.8,"y":55},{"r":"W","c":4,"x":53.8,"y":52},{"r":"W","c":4,"x":54.8,"y":50},{"r":"W","c":4,"x":55.8,"y":55},{"r":"W","c":4,"x":56.7,"y":50},{"r":"W","c":4,"x":57.9,"y":42},{"r":"W","c":4,"x":59.2,"y":33},{"r":"W","c":4,"x":60.5,"y":22},{"r":"W","c":4,"x":61.7,"y":15},{"r":"W","c":4,"x":62.9,"y":9},{"r":"W","c":4,"x":64.2,"y":4},{"r":"W","c":4,"x":65.4,"y":1},{"r":"W","c":4,"x":70,"y":0.5},{"r":"W","c":4,"x":80,"y":0.3},{"r":"W","c":4,"x":100,"y":0},
{"r":"W","c":5,"x":0,"y":0},{"r":"W","c":5,"x":0.6,"y":6},{"r":"W","c":5,"x":1.5,"y":15},{"r":"W","c":5,"x":2.3,"y":25},{"r":"W","c":5,"x":3.1,"y":35},{"r":"W","c":5,"x":3.9,"y":22},{"r":"W","c":5,"x":4.7,"y":18},{"r":"W","c":5,"x":5.5,"y":28},{"r":"W","c":5,"x":6.2,"y":33},{"r":"W","c":5,"x":7.2,"y":37},{"r":"W","c":5,"x":8.3,"y":40},{"r":"W","c":5,"x":9.3,"y":46},{"r":"W","c":5,"x":10.3,"y":52},{"r":"W","c":5,"x":11.2,"y":62},{"r":"W","c":5,"x":12,"y":72},{"r":"W","c":5,"x":12.7,"y":80},{"r":"W","c":5,"x":13.4,"y":86},{"r":"W","c":5,"x":14.2,"y":84},{"r":"W","c":5,"x":15.1,"y":88},{"r":"W","c":5,"x":15.8,"y":91},{"r":"W","c":5,"x":16.5,"y":93},{"r":"W","c":5,"x":17.2,"y":89},{"r":"W","c":5,"x":18,"y":83},{"r":"W","c":5,"x":18.8,"y":82},{"r":"W","c":5,"x":19.7,"y":81},{"r":"W","c":5,"x":20.5,"y":76},{"r":"W","c":5,"x":21.3,"y":72},{"r":"W","c":5,"x":22.1,"y":65},{"r":"W","c":5,"x":22.8,"y":59},{"r":"W","c":5,"x":23.8,"y":54},{"r":"W","c":5,"x":24.8,"y":50},{"r":"W","c":5,"x":25.9,"y":45},{"r":"W","c":5,"x":26.9,"y":40},{"r":"W","c":5,"x":28,"y":35},{"r":"W","c":5,"x":29,"y":30},{"r":"W","c":5,"x":30,"y":25},{"r":"W","c":5,"x":31.1,"y":20},{"r":"W","c":5,"x":32.7,"y":18},{"r":"W","c":5,"x":34.2,"y":16},{"r":"W","c":5,"x":35.7,"y":13},{"r":"W","c":5,"x":37.3,"y":11},{"r":"W","c":5,"x":38.8,"y":12},{"r":"W","c":5,"x":40.4,"y":13},{"r":"W","c":5,"x":42,"y":14.5},{"r":"W","c":5,"x":43.5,"y":16},{"r":"W","c":5,"x":45,"y":18},{"r":"W","c":5,"x":46.6,"y":20},{"r":"W","c":5,"x":48.2,"y":26},{"r":"W","c":5,"x":49.7,"y":33},{"r":"W","c":5,"x":51.2,"y":39},{"r":"W","c":5,"x":52.8,"y":45},{"r":"W","c":5,"x":54.3,"y":52},{"r":"W","c":5,"x":55.9,"y":59},{"r":"W","c":5,"x":57,"y":65},{"r":"W","c":5,"x":58,"y":72},{"r":"W","c":5,"x":59,"y":80},{"r":"W","c":5,"x":60,"y":86},{"r":"W","c":5,"x":61,"y":93},{"r":"W","c":5,"x":62.1,"y":100},{"r":"W","c":5,"x":63.1,"y":99},{"r":"W","c":5,"x":64.2,"y":98},{"r":"W","c":5,"x":65.2,"y":93},{"r":"W","c":5,"x":66.3,"y":88},{"r":"W","c":5,"x":67.3,"y":78},{"r":"W","c":5,"x":68.3,"y":69},{"r":"W","c":5,"x":69.4,"y":61},{"r":"W","c":5,"x":70.4,"y":54},{"r":"W","c":5,"x":71.4,"y":47},{"r":"W","c":5,"x":72.4,"y":40},{"r":"W","c":5,"x":73.5,"y":32},{"r":"W","c":5,"x":74.5,"y":25},{"r":"W","c":5,"x":75.6,"y":20},{"r":"W","c":5,"x":76.6,"y":16},{"r":"W","c":5,"x":77.7,"y":12},{"r":"W","c":5,"x":78.7,"y":8.7},{"r":"W","c":5,"x":80,"y":5},{"r":"W","c":5,"x":81.3,"y":2.6},{"r":"W","c":5,"x":82.5,"y":1},{"r":"W","c":5,"x":83.8,"y":0},
{"r":"K","c":1,"x":0,"y":0},{"r":"K","c":1,"x":0.4,"y":30},{"r":"K","c":1,"x":0.7,"y":93},{"r":"K","c":1,"x":1,"y":60},{"r":"K","c":1,"x":1.5,"y":40},{"r":"K","c":1,"x":2.2,"y":55},{"r":"K","c":1,"x":3.1,"y":64},{"r":"K","c":1,"x":4.1,"y":64},{"r":"K","c":1,"x":5.2,"y":65},{"r":"K","c":1,"x":6.2,"y":67},{"r":"K","c":1,"x":7.2,"y":76},{"r":"K","c":1,"x":8.3,"y":80},{"r":"K","c":1,"x":9.3,"y":83},{"r":"K","c":1,"x":9.8,"y":88},{"r":"K","c":1,"x":10.4,"y":93},{"r":"K","c":1,"x":11.1,"y":97},{"r":"K","c":1,"x":11.8,"y":100},{"r":"K","c":1,"x":12.4,"y":99},{"r":"K","c":1,"x":13,"y":98},{"r":"K","c":1,"x":13.8,"y":90},{"r":"K","c":1,"x":14.5,"y":81},{"r":"K","c":1,"x":15.3,"y":86},{"r":"K","c":1,"x":16.1,"y":88},{"r":"K","c":1,"x":16.8,"y":82},{"r":"K","c":1,"x":17.6,"y":76},{"r":"K","c":1,"x":18.3,"y":64},{"r":"K","c":1,"x":19,"y":52},{"r":"K","c":1,"x":19.9,"y":44},{"r":"K","c":1,"x":20.7,"y":35},{"r":"K","c":1,"x":21.6,"y":30},{"r":"K","c":1,"x":22.4,"y":25},{"r":"K","c":1,"x":23.1,"y":20},{"r":"K","c":1,"x":23.8,"y":16},{"r":"K","c":1,"x":24.6,"y":18},{"r":"K","c":1,"x":25.3,"y":20},{"r":"K","c":1,"x":26.1,"y":14},{"r":"K","c":1,"x":26.9,"y":11},{"r":"K","c":1,"x":28,"y":9.5},{"r":"K","c":1,"x":29,"y":8.7},{"r":"K","c":1,"x":30.5,"y":7},{"r":"K","c":1,"x":32.1,"y":5},{"r":"K","c":1,"x":33.7,"y":4.5},{"r":"K","c":1,"x":35.2,"y":3.6},{"r":"K","c":1,"x":36.8,"y":4.8},{"r":"K","c":1,"x":38.3,"y":6},{"r":"K","c":1,"x":39.8,"y":6.5},{"r":"K","c":1,"x":41.4,"y":7.2},{"r":"K","c":1,"x":43,"y":9},{"r":"K","c":1,"x":44.5,"y":11},{"r":"K","c":1,"x":45.5,"y":12},{"r":"K","c":1,"x":46.6,"y":16},{"r":"K","c":1,"x":48.2,"y":17},{"r":"K","c":1,"x":49.7,"y":18},{"r":"K","c":1,"x":50.8,"y":17.5},{"r":"K","c":1,"x":51.8,"y":17},{"r":"K","c":1,"x":52.8,"y":14},{"r":"K","c":1,"x":53.8,"y":11},{"r":"K","c":1,"x":55.4,"y":10},{"r":"K","c":1,"x":56.9,"y":8.7},{"r":"K","c":1,"x":58.5,"y":7},{"r":"K","c":1,"x":60,"y":5},{"r":"K","c":1,"x":61,"y":3},{"r":"K","c":1,"x":62.1,"y":0.5},{"r":"K","c":1,"x":63,"y":0.5},{"r":"K","c":1,"x":63.8,"y":2.6},{"r":"K","c":1,"x":64.5,"y":2},{"r":"K","c":1,"x":65.2,"y":0},
{"r":"K","c":2,"x":0,"y":0},{"r":"K","c":2,"x":0.6,"y":40},{"r":"K","c":2,"x":1,"y":93},{"r":"K","c":2,"x":1.4,"y":50},{"r":"K","c":2,"x":2,"y":40},{"r":"K","c":2,"x":2.8,"y":50},{"r":"K","c":2,"x":3.5,"y":59},{"r":"K","c":2,"x":4.3,"y":57},{"r":"K","c":2,"x":5.2,"y":56},{"r":"K","c":2,"x":5.9,"y":62},{"r":"K","c":2,"x":6.6,"y":69},{"r":"K","c":2,"x":7.4,"y":76},{"r":"K","c":2,"x":8.3,"y":83},{"r":"K","c":2,"x":9.1,"y":88},{"r":"K","c":2,"x":9.9,"y":93},{"r":"K","c":2,"x":10.6,"y":97},{"r":"K","c":2,"x":11.4,"y":100},{"r":"K","c":2,"x":12.1,"y":98},{"r":"K","c":2,"x":12.8,"y":96},{"r":"K","c":2,"x":13.6,"y":92},{"r":"K","c":2,"x":14.5,"y":88},{"r":"K","c":2,"x":15.3,"y":82},{"r":"K","c":2,"x":16.1,"y":76},{"r":"K","c":2,"x":16.8,"y":70},{"r":"K","c":2,"x":17.6,"y":64},{"r":"K","c":2,"x":18.6,"y":56},{"r":"K","c":2,"x":19.7,"y":49},{"r":"K","c":2,"x":20.7,"y":42},{"r":"K","c":2,"x":21.7,"y":35},{"r":"K","c":2,"x":22.7,"y":31},{"r":"K","c":2,"x":23.8,"y":28},{"r":"K","c":2,"x":24.8,"y":26},{"r":"K","c":2,"x":25.9,"y":25},{"r":"K","c":2,"x":26.9,"y":22},{"r":"K","c":2,"x":28,"y":20},{"r":"K","c":2,"x":29,"y":18.5},{"r":"K","c":2,"x":30,"y":17},{"r":"K","c":2,"x":31,"y":16.5},{"r":"K","c":2,"x":32.1,"y":16},{"r":"K","c":2,"x":33.6,"y":15},{"r":"K","c":2,"x":35.2,"y":13},{"r":"K","c":2,"x":36.7,"y":12},{"r":"K","c":2,"x":38.3,"y":11},{"r":"K","c":2,"x":39.8,"y":14},{"r":"K","c":2,"x":41.4,"y":17},{"r":"K","c":2,"x":43,"y":13},{"r":"K","c":2,"x":44.5,"y":13},{"r":"K","c":2,"x":46,"y":14.5},{"r":"K","c":2,"x":47.6,"y":16},{"r":"K","c":2,"x":49.2,"y":15},{"r":"K","c":2,"x":50.7,"y":14.5},{"r":"K","c":2,"x":52.2,"y":15.5},{"r":"K","c":2,"x":53.8,"y":16},{"r":"K","c":2,"x":55.4,"y":14},{"r":"K","c":2,"x":56.9,"y":12},{"r":"K","c":2,"x":58.5,"y":10.5},{"r":"K","c":2,"x":60,"y":8.7},{"r":"K","c":2,"x":61.5,"y":7},{"r":"K","c":2,"x":63.1,"y":5},{"r":"K","c":2,"x":64.7,"y":3.8},{"r":"K","c":2,"x":66.3,"y":2.6},{"r":"K","c":2,"x":68.3,"y":1.5},{"r":"K","c":2,"x":70.4,"y":0.7},{"r":"K","c":2,"x":73.5,"y":0},
{"r":"K","c":3,"x":0,"y":0},{"r":"K","c":3,"x":0.5,"y":2},{"r":"K","c":3,"x":1.4,"y":5},{"r":"K","c":3,"x":2.5,"y":10},{"r":"K","c":3,"x":3.5,"y":16},{"r":"K","c":3,"x":4.5,"y":25},{"r":"K","c":3,"x":5.6,"y":33},{"r":"K","c":3,"x":6.6,"y":40},{"r":"K","c":3,"x":7.6,"y":47},{"r":"K","c":3,"x":8.6,"y":52},{"r":"K","c":3,"x":9.7,"y":57},{"r":"K","c":3,"x":10.7,"y":66},{"r":"K","c":3,"x":11.8,"y":74},{"r":"K","c":3,"x":12.8,"y":80},{"r":"K","c":3,"x":13.9,"y":86},{"r":"K","c":3,"x":14.7,"y":90},{"r":"K","c":3,"x":15.5,"y":93},{"r":"K","c":3,"x":16.2,"y":96},{"r":"K","c":3,"x":17,"y":98},{"r":"K","c":3,"x":18,"y":100},{"r":"K","c":3,"x":18.8,"y":90},{"r":"K","c":3,"x":19.7,"y":83},{"r":"K","c":3,"x":20.4,"y":80},{"r":"K","c":3,"x":21.1,"y":78},{"r":"K","c":3,"x":21.8,"y":71},{"r":"K","c":3,"x":22.6,"y":64},{"r":"K","c":3,"x":23.4,"y":54},{"r":"K","c":3,"x":24.2,"y":45},{"r":"K","c":3,"x":25.2,"y":37},{"r":"K","c":3,"x":26.3,"y":30},{"r":"K","c":3,"x":27.3,"y":25},{"r":"K","c":3,"x":28.4,"y":22},{"r":"K","c":3,"x":29.9,"y":20},{"r":"K","c":3,"x":31.5,"y":18},{"r":"K","c":3,"x":33,"y":17},{"r":"K","c":3,"x":34.6,"y":16},{"r":"K","c":3,"x":36.1,"y":15},{"r":"K","c":3,"x":37.7,"y":14.5},{"r":"K","c":3,"x":39.2,"y":15},{"r":"K","c":3,"x":40.8,"y":16},{"r":"K","c":3,"x":42.3,"y":16.5},{"r":"K","c":3,"x":43.9,"y":17},{"r":"K","c":3,"x":45.4,"y":19},{"r":"K","c":3,"x":47,"y":20},{"r":"K","c":3,"x":48.5,"y":19},{"r":"K","c":3,"x":50.1,"y":20},{"r":"K","c":3,"x":51.6,"y":20},{"r":"K","c":3,"x":53.2,"y":20},{"r":"K","c":3,"x":54.7,"y":20.5},{"r":"K","c":3,"x":56.3,"y":20},{"r":"K","c":3,"x":57.3,"y":17},{"r":"K","c":3,"x":58.4,"y":16},{"r":"K","c":3,"x":59.5,"y":12},{"r":"K","c":3,"x":60.5,"y":9.4},{"r":"K","c":3,"x":62,"y":9},{"r":"K","c":3,"x":63.6,"y":8.7},{"r":"K","c":3,"x":65.1,"y":7},{"r":"K","c":3,"x":66.7,"y":6},{"r":"K","c":3,"x":68.2,"y":3.5},{"r":"K","c":3,"x":69.8,"y":1.7},{"r":"K","c":3,"x":71.8,"y":1.2},{"r":"K","c":3,"x":73.9,"y":0.8},{"r":"K","c":3,"x":80,"y":0.5},{"r":"K","c":3,"x":90,"y":0.3},{"r":"K","c":3,"x":100,"y":0},
{"r":"K","c":4,"x":0,"y":0},{"r":"K","c":4,"x":1,"y":5},{"r":"K","c":4,"x":2,"y":12},{"r":"K","c":4,"x":3.1,"y":20},{"r":"K","c":4,"x":4.1,"y":27},{"r":"K","c":4,"x":5.2,"y":33},{"r":"K","c":4,"x":6.2,"y":40},{"r":"K","c":4,"x":7.2,"y":47},{"r":"K","c":4,"x":8.1,"y":55},{"r":"K","c":4,"x":8.9,"y":69},{"r":"K","c":4,"x":9.6,"y":60},{"r":"K","c":4,"x":10.3,"y":54},{"r":"K","c":4,"x":11.4,"y":65},{"r":"K","c":4,"x":12.4,"y":76},{"r":"K","c":4,"x":13.5,"y":85},{"r":"K","c":4,"x":14.5,"y":93},{"r":"K","c":4,"x":15.2,"y":96},{"r":"K","c":4,"x":15.9,"y":98},{"r":"K","c":4,"x":16.7,"y":99},{"r":"K","c":4,"x":17.6,"y":100},{"r":"K","c":4,"x":18.4,"y":94},{"r":"K","c":4,"x":19.2,"y":88},{"r":"K","c":4,"x":20,"y":86},{"r":"K","c":4,"x":20.7,"y":83},{"r":"K","c":4,"x":21.5,"y":73},{"r":"K","c":4,"x":22.2,"y":64},{"r":"K","c":4,"x":23,"y":60},{"r":"K","c":4,"x":23.8,"y":57},{"r":"K","c":4,"x":24.8,"y":53},{"r":"K","c":4,"x":25.9,"y":50},{"r":"K","c":4,"x":26.9,"y":48},{"r":"K","c":4,"x":28,"y":47},{"r":"K","c":4,"x":29,"y":48},{"r":"K","c":4,"x":30,"y":49},{"r":"K","c":4,"x":31.1,"y":53},{"r":"K","c":4,"x":32.1,"y":57},{"r":"K","c":4,"x":33.2,"y":50},{"r":"K","c":4,"x":34.2,"y":50},{"r":"K","c":4,"x":35.2,"y":54},{"r":"K","c":4,"x":36.2,"y":52},{"r":"K","c":4,"x":37.3,"y":55},{"r":"K","c":4,"x":38.3,"y":54},{"r":"K","c":4,"x":39.3,"y":56},{"r":"K","c":4,"x":40.4,"y":59},{"r":"K","c":4,"x":41.4,"y":52},{"r":"K","c":4,"x":42.4,"y":50},{"r":"K","c":4,"x":43.5,"y":48},{"r":"K","c":4,"x":44.5,"y":47},{"r":"K","c":4,"x":45.6,"y":46},{"r":"K","c":4,"x":46.6,"y":45},{"r":"K","c":4,"x":47.6,"y":43},{"r":"K","c":4,"x":48.6,"y":40},{"r":"K","c":4,"x":50.7,"y":40},{"r":"K","c":4,"x":51.8,"y":37},{"r":"K","c":4,"x":52.8,"y":33},{"r":"K","c":4,"x":53.8,"y":29},{"r":"K","c":4,"x":54.8,"y":25},{"r":"K","c":4,"x":55.8,"y":21},{"r":"K","c":4,"x":56.7,"y":18},{"r":"K","c":4,"x":58.2,"y":14},{"r":"K","c":4,"x":59.8,"y":11},{"r":"K","c":4,"x":61.3,"y":8},{"r":"K","c":4,"x":62.9,"y":5},{"r":"K","c":4,"x":64.4,"y":3},{"r":"K","c":4,"x":66,"y":1.7},{"r":"K","c":4,"x":68.8,"y":1},{"r":"K","c":4,"x":71.6,"y":0.7},{"r":"K","c":4,"x":85,"y":0.3},{"r":"K","c":4,"x":99.6,"y":0},
{"r":"K","c":5,"x":0,"y":0},{"r":"K","c":5,"x":1,"y":5},{"r":"K","c":5,"x":2,"y":12},{"r":"K","c":5,"x":3.1,"y":20},{"r":"K","c":5,"x":3.9,"y":16},{"r":"K","c":5,"x":4.7,"y":17},{"r":"K","c":5,"x":5.5,"y":26},{"r":"K","c":5,"x":6.2,"y":33},{"r":"K","c":5,"x":7.3,"y":41},{"r":"K","c":5,"x":8.3,"y":47},{"r":"K","c":5,"x":9,"y":56},{"r":"K","c":5,"x":9.7,"y":64},{"r":"K","c":5,"x":10.6,"y":70},{"r":"K","c":5,"x":11.4,"y":76},{"r":"K","c":5,"x":12.1,"y":81},{"r":"K","c":5,"x":12.8,"y":86},{"r":"K","c":5,"x":13.5,"y":92},{"r":"K","c":5,"x":14.1,"y":98},{"r":"K","c":5,"x":14.8,"y":99},{"r":"K","c":5,"x":15.5,"y":100},{"r":"K","c":5,"x":16.3,"y":99},{"r":"K","c":5,"x":17.1,"y":98},{"r":"K","c":5,"x":17.8,"y":92},{"r":"K","c":5,"x":18.6,"y":86},{"r":"K","c":5,"x":19.3,"y":82},{"r":"K","c":5,"x":20,"y":78},{"r":"K","c":5,"x":20.6,"y":84},{"r":"K","c":5,"x":21.3,"y":90},{"r":"K","c":5,"x":22.1,"y":75},{"r":"K","c":5,"x":22.8,"y":64},{"r":"K","c":5,"x":23.8,"y":54},{"r":"K","c":5,"x":24.8,"y":45},{"r":"K","c":5,"x":25.8,"y":39},{"r":"K","c":5,"x":26.9,"y":33},{"r":"K","c":5,"x":28,"y":29},{"r":"K","c":5,"x":29,"y":25},{"r":"K","c":5,"x":30,"y":22},{"r":"K","c":5,"x":31.1,"y":18},{"r":"K","c":5,"x":32.5,"y":16},{"r":"K","c":5,"x":34.2,"y":14},{"r":"K","c":5,"x":35.2,"y":11},{"r":"K","c":5,"x":36.2,"y":8.7},{"r":"K","c":5,"x":37.5,"y":9},{"r":"K","c":5,"x":38.7,"y":9.4},{"r":"K","c":5,"x":40,"y":10},{"r":"K","c":5,"x":41.4,"y":11},{"r":"K","c":5,"x":42.4,"y":13},{"r":"K","c":5,"x":43.5,"y":16},{"r":"K","c":5,"x":44.5,"y":21},{"r":"K","c":5,"x":45.5,"y":25},{"r":"K","c":5,"x":46.6,"y":27},{"r":"K","c":5,"x":47.6,"y":28},{"r":"K","c":5,"x":48.6,"y":29},{"r":"K","c":5,"x":49.7,"y":30},{"r":"K","c":5,"x":50.7,"y":32},{"r":"K","c":5,"x":51.8,"y":35},{"r":"K","c":5,"x":52.8,"y":38},{"r":"K","c":5,"x":53.8,"y":42},{"r":"K","c":5,"x":54.8,"y":45},{"r":"K","c":5,"x":55.9,"y":47},{"r":"K","c":5,"x":57,"y":50},{"r":"K","c":5,"x":58,"y":52},{"r":"K","c":5,"x":59,"y":57},{"r":"K","c":5,"x":60,"y":62},{"r":"K","c":5,"x":61,"y":64},{"r":"K","c":5,"x":62.1,"y":67},{"r":"K","c":5,"x":62.8,"y":65},{"r":"K","c":5,"x":63.6,"y":64},{"r":"K","c":5,"x":64.4,"y":58},{"r":"K","c":5,"x":65.2,"y":52},{"r":"K","c":5,"x":66.2,"y":46},{"r":"K","c":5,"x":67.3,"y":40},{"r":"K","c":5,"x":68.3,"y":33},{"r":"K","c":5,"x":69.4,"y":25},{"r":"K","c":5,"x":70.4,"y":20},{"r":"K","c":5,"x":71.4,"y":16},{"r":"K","c":5,"x":72.5,"y":12},{"r":"K","c":5,"x":73.5,"y":8.7},{"r":"K","c":5,"x":74.5,"y":7},{"r":"K","c":5,"x":75.6,"y":5},{"r":"K","c":5,"x":76.6,"y":4},{"r":"K","c":5,"x":77.7,"y":2.6},{"r":"K","c":5,"x":78.5,"y":1},{"r":"K","c":5,"x":79.3,"y":0},
{"r":"W","c":1,"k":"g","x0":36.2,"x1":100,"gy":60.9,"t":"22.1"},{"r":"W","c":2,"k":"g","x0":36.2,"x1":100,"gy":60.9,"t":"14.3"},{"r":"W","c":3,"k":"g","x0":36.2,"x1":100,"gy":60.9,"t":"16.3"},{"r":"W","c":4,"k":"g","x0":33.7,"x1":99,"gy":60.9,"t":"44.9"},{"r":"W","c":5,"k":"g","x0":35.8,"x1":100,"gy":60.9,"t":"52.0"},
{"r":"K","c":1,"k":"g","x0":34.8,"x1":100,"gy":61.4,"t":"10.1"},{"r":"K","c":2,"k":"g","x0":34.8,"x1":100,"gy":61.4,"t":"14.1"},{"r":"K","c":3,"k":"g","x0":35,"x1":100,"gy":61.4,"t":"18.7"},{"r":"K","c":4,"k":"g","x0":33.1,"x1":99,"gy":61.4,"t":"36.8"},{"r":"K","c":5,"k":"g","x0":34.8,"x1":100,"gy":61.4,"t":"38.0"}
]
},
"spacing":5,
"hconcat":[
{
"width":38,"height":675,
"data":{"values":[
{"k":"L","x":13.5,"y":2,"t":"a"},
{"k":"L","x":14,"y":387,"t":"b"},
{"k":"A","x":18,"y1":120,"y2":152,"ty":116},
{"k":"A","x":18,"y1":485,"y2":513,"ty":481},
{"k":"C","x":18,"y":195,"t":"Cell #"},
{"k":"C","x":18,"y":560,"t":"Cell #"}
]},
"layer":[
{"transform":[{"filter":"datum.k=='L'"}],"mark":{"type":"text","fontSize":25,"fontWeight":"bold","baseline":"middle","align":"center","color":"black"},
"encoding":{"x":{"field":"x","type":"quantitative","scale":{"domain":[0,38],"nice":false},"axis":null},"y":{"field":"y","type":"quantitative","scale":{"domain":[0,675],"nice":false,"reverse":true},"axis":null},"text":{"field":"t"}}},
{"transform":[{"filter":"datum.k=='A'"}],"mark":{"type":"rule","strokeWidth":2.5,"color":"black"},
"encoding":{"x":{"field":"x","type":"quantitative"},"y":{"field":"y1","type":"quantitative"},"y2":{"field":"y2"}}},
{"transform":[{"filter":"datum.k=='A'"}],"mark":{"type":"point","shape":"triangle-up","filled":true,"size":180,"color":"black","opacity":1},
"encoding":{"x":{"field":"x","type":"quantitative"},"y":{"field":"ty","type":"quantitative"}}},
{"transform":[{"filter":"datum.k=='C'"}],"mark":{"type":"text","fontSize":23,"angle":270,"baseline":"middle","align":"center","color":"black"},
"encoding":{"x":{"field":"x","type":"quantitative"},"y":{"field":"y","type":"quantitative"},"text":{"field":"t"}}}
]
},
{
"spacing":40,
"vconcat":[
{
"data":{"name":"a"},
"facet":{
"row":{"field":"r","type":"nominal","sort":["W","K"],"header":null},
"column":{"field":"c","type":"ordinal","header":{"title":null,"labelOrient":"bottom","labelExpr":"['','Ly49A','Ly49C/I','Ly49IL','Ly49D','Ly49G2'][datum.value]","labelFontSize":24,"labelFont":"Liberation Sans","labelColor":"black","labelPadding":8}}
},
"spacing":{"row":27,"column":20.5},
"spec":{
"width":161,"height":138,
"layer":[
{"transform":[{"filter":"datum.k==null"}],"mark":{"type":"area","stroke":"black","strokeWidth":1.6,"strokeJoin":"round"},
"encoding":{"x":{"field":"x","type":"quantitative","scale":{"domain":[0,100],"nice":false},"axis":null},"y":{"field":"y","type":"quantitative","scale":{"domain":[0,100],"nice":false},"axis":null},"fill":{"field":"r","type":"nominal","scale":{"domain":["W","K"],"range":["#808080","#000000"]},"legend":null}}},
{"transform":[{"filter":"datum.k=='g'"}],"mark":{"type":"rule","color":"black","strokeWidth":1.5},"encoding":{"x":{"datum":0},"y":{"datum":0},"y2":{"datum":100}}},
{"transform":[{"filter":"datum.k=='g'"}],"mark":{"type":"rule","color":"black","strokeWidth":2},"encoding":{"x":{"field":"x0","type":"quantitative"},"x2":{"field":"x1"},"y":{"field":"gy","type":"quantitative"}}},
{"transform":[{"filter":"datum.k=='g'"}],"mark":{"type":"text","align":"right","baseline":"alphabetic","dx":-9,"dy":-4,"fontSize":22,"color":"black"},"encoding":{"x":{"field":"x1","type":"quantitative"},"y":{"field":"gy","type":"quantitative"},"text":{"field":"t"}}}
]
}
},
{
"data":{"name":"b"},
"facet":{
"row":{"field":"r","type":"nominal","sort":["W","K"],"header":null},
"column":{"field":"c","type":"ordinal","header":{"title":null,"labelOrient":"bottom","labelExpr":"['','Ly49A','Ly49C/I','Ly49I','Ly49D','Ly49G2'][datum.value]","labelFontSize":24,"labelFont":"Liberation Sans","labelColor":"black","labelPadding":8}}
},
"spacing":{"row":22,"column":20.5},
"spec":{
"width":161,"height":138,
"layer":[
{"transform":[{"filter":"datum.k==null"}],"mark":{"type":"area","stroke":"black","strokeWidth":1.6,"strokeJoin":"round"},
"encoding":{"x":{"field":"x","type":"quantitative","scale":{"domain":[0,100],"nice":false},"axis":null},"y":{"field":"y","type":"quantitative","scale":{"domain":[0,100],"nice":false},"axis":null},"fill":{"field":"r","type":"nominal","scale":{"domain":["W","K"],"range":["#808080","#000000"]},"legend":null}}},
{"transform":[{"filter":"datum.k=='g'"}],"mark":{"type":"rule","color":"black","strokeWidth":1.5},"encoding":{"x":{"datum":0},"y":{"datum":0},"y2":{"datum":100}}},
{"transform":[{"filter":"datum.k=='g'"}],"mark":{"type":"rule","color":"black","strokeWidth":2},"encoding":{"x":{"field":"x0","type":"quantitative"},"x2":{"field":"x1"},"y":{"field":"gy","type":"quantitative"}}},
{"transform":[{"filter":"datum.k=='g'"}],"mark":{"type":"text","align":"right","baseline":"alphabetic","dx":-9,"dy":-4,"fontSize":22,"color":"black"},"encoding":{"x":{"field":"x1","type":"quantitative"},"y":{"field":"gy","type":"quantitative"},"text":{"field":"t"}}}
]
}
}
]
},
{
"width":90,"height":675,
"data":{"values":[
{"k":"g","x":23,"y":92,"t":"WT"},
{"k":"p","x":21,"y":225,"t":"p85α"},
{"k":"s","x":72,"y":216,"t":"−/−"},
{"k":"g","x":23.5,"y":457,"t":"WT"},
{"k":"p","x":21,"y":595,"t":"p85α"},
{"k":"s","x":72,"y":586,"t":"−/−"}
]},
"layer":[
{"transform":[{"filter":"datum.k=='g'"}],"mark":{"type":"text","fontSize":22,"fontWeight":"bold","align":"left","baseline":"middle","color":"black"},
"encoding":{"x":{"field":"x","type":"quantitative","scale":{"domain":[0,90],"nice":false},"axis":null},"y":{"field":"y","type":"quantitative","scale":{"domain":[0,675],"nice":false,"reverse":true},"axis":null},"text":{"field":"t"}}},
{"transform":[{"filter":"datum.k=='p'"}],"mark":{"type":"text","fontSize":22,"fontStyle":"italic","align":"left","baseline":"alphabetic","color":"black"},
"encoding":{"x":{"field":"x","type":"quantitative"},"y":{"field":"y","type":"quantitative"},"text":{"field":"t"}}},
{"transform":[{"filter":"datum.k=='s'"}],"mark":{"type":"text","fontSize":14,"align":"left","baseline":"alphabetic","color":"black"},
"encoding":{"x":{"field":"x","type":"quantitative"},"y":{"field":"y","type":"quantitative"},"text":{"field":"t"}}}
]
}
]
}
